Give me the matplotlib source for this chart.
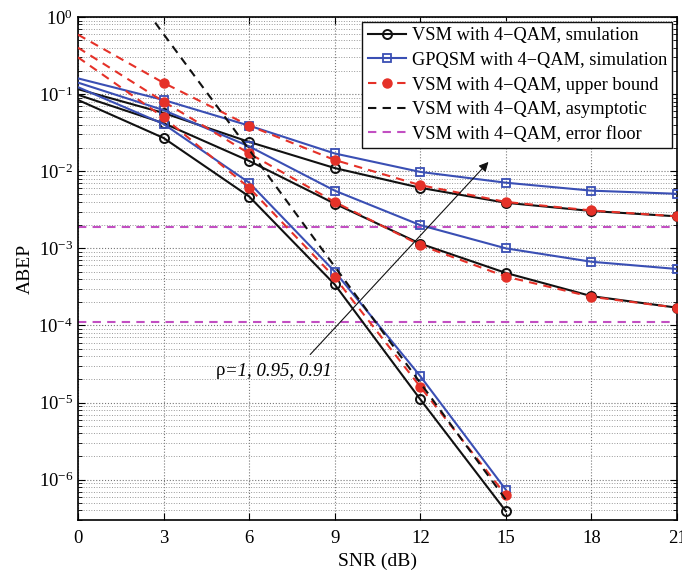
import matplotlib
matplotlib.use("Agg")
import matplotlib.pyplot as plt
from matplotlib.ticker import LogLocator, NullFormatter, LogFormatterMathtext

plt.rcParams["font.family"] = ["Liberation Serif", "DejaVu Serif"]
plt.rcParams["mathtext.fontset"] = "custom"
plt.rcParams["mathtext.rm"] = "Liberation Serif"
plt.rcParams["mathtext.it"] = "Liberation Serif:italic"

snr = [0, 3, 6, 9, 12, 15, 18, 21]
snr_short = [0, 3, 6, 9, 12, 15]

# VSM simulation, rho = 1, 0.95, 0.91
vsm_r1 = [0.084, 0.027, 0.0047, 3.4e-4, 1.1e-5, 3.9e-7]
vsm_r95 = [0.098, 0.042, 0.0136, 0.0038, 1.15e-3, 4.8e-4, 2.4e-4, 1.7e-4]
vsm_r91 = [0.116, 0.057, 0.024, 0.011, 6.1e-3, 3.9e-3, 3.05e-3, 2.6e-3]

# GPQSM simulation
gpq_r1 = [0.123, 0.041, 0.0071, 5.0e-4, 2.2e-5, 7.4e-7]
gpq_r95 = [0.141, 0.062, 0.021, 0.0056, 0.0020, 1.0e-3, 6.7e-4, 5.4e-4]
gpq_r91 = [0.16, 0.084, 0.039, 0.017, 0.0098, 0.0071, 0.0056, 0.0051]

# VSM upper bound
ub_r1 = [0.30, 0.05, 0.0061, 4.2e-4, 1.6e-5, 6.3e-7]
ub_r95 = [0.40, 0.08, 0.017, 0.0040, 1.1e-3, 4.3e-4, 2.35e-4, 1.7e-4]
ub_r91 = [0.59, 0.14, 0.039, 0.014, 0.0066, 0.0040, 0.0031, 0.0026]

# asymptotic (rho = 1)
asym = [20.0, 0.6, 0.019, 5.8e-4, 1.8e-5, 5.5e-7]

# error floors (rho = 0.95, 0.91)
floor_r95 = 1.12e-4
floor_r91 = 1.9e-3

BLACK = "#111111"
BLUE = "#3a4fb4"
RED = "#e53128"
MAGENTA = "#c24fc2"

fig = plt.figure(figsize=(6.82, 5.81), dpi=100)
ax = fig.add_axes([0.1144, 0.105, 0.8783, 0.8657])

mk = slice(1, None)
for i, (xs, v) in enumerate([(snr_short, vsm_r1), (snr, vsm_r95), (snr, vsm_r91)]):
    ax.plot(xs, v, "-", color=BLACK, lw=1.5, marker="o", ms=6.5, mfc="none",
            mew=1.4, markevery=mk, label="VSM with 4\u2212QAM, smulation" if i == 0 else None,
            zorder=3)
for i, (xs, v) in enumerate([(snr_short, gpq_r1), (snr, gpq_r95), (snr, gpq_r91)]):
    ax.plot(xs, v, "-", color=BLUE, lw=1.5, marker="s", ms=6, mfc="none",
            mew=1.3, markevery=mk, label="GPQSM with 4\u2212QAM, simulation" if i == 0 else None,
            zorder=3)
for i, (xs, v) in enumerate([(snr_short, ub_r1), (snr, ub_r95), (snr, ub_r91)]):
    ax.plot(xs, v, "--", color=RED, lw=1.5, dashes=(4, 3), marker="o", ms=6.5,
            mec=RED, mfc=RED, markevery=mk,
            label="VSM with 4\u2212QAM, upper bound" if i == 0 else None, zorder=4)
ax.plot(snr_short, asym, "--", color=BLACK, lw=1.5, dashes=(4, 3),
        label="VSM with 4\u2212QAM, asymptotic", zorder=4)
ax.axhline(floor_r91, color=MAGENTA, lw=1.5, ls="--", dashes=(4, 3),
           label="VSM with 4\u2212QAM, error floor", zorder=2)
ax.axhline(floor_r95, color=MAGENTA, lw=1.5, ls="--", dashes=(4, 3), zorder=2)

ax.set_yscale("log")
ax.set_xlim(0, 21)
ax.set_ylim(3e-7, 1)
ax.set_xticks(snr)
ax.yaxis.set_major_locator(LogLocator(base=10, numticks=20))
ax.yaxis.set_minor_locator(LogLocator(base=10, subs=range(2, 10), numticks=20))
ax.yaxis.set_minor_formatter(NullFormatter())
ax.yaxis.set_major_formatter(LogFormatterMathtext())
ax.tick_params(axis="both", which="both", direction="in", top=True, right=True,
               labelsize=13.5)
ax.tick_params(axis="x", pad=7)
ax.tick_params(which="major", length=5, width=0.8)
ax.tick_params(which="minor", length=3, width=0.6)
ax.grid(True, which="major", ls=":", color="#777777", lw=0.8)
ax.grid(True, which="minor", axis="y", ls=":", color="#999999", lw=0.7)
for s in ax.spines.values():
    s.set_linewidth(1.2)

ax.set_xlabel("SNR (dB)", fontsize=14, labelpad=4)
ax.set_ylabel("ABEP", fontsize=14, labelpad=3)

ax.annotate("", xy=(14.39, 0.0132), xytext=(8.14, 4.2e-5),
            arrowprops=dict(arrowstyle="-|>", color=BLACK, lw=0.8,
                            mutation_scale=14, shrinkA=0, shrinkB=0), zorder=5)
rho = ax.text(4.84, 2.6e-5, "ρ", fontsize=13.5, ha="left", va="center", zorder=5)
ax.annotate("=1, 0.95, 0.91", xy=(1, 0.5), xycoords=rho, fontsize=13.5,
            style="italic", ha="left", va="center", zorder=5)

leg = ax.legend(loc="upper right", fontsize=13.2, numpoints=1, handlelength=2.1,
                fancybox=False, framealpha=1, edgecolor=BLACK,
                borderaxespad=0.25, labelspacing=0.42, handletextpad=0.3,
                borderpad=0.3)
leg.get_frame().set_linewidth(1.0)

fig.savefig("out.png", dpi=100)
